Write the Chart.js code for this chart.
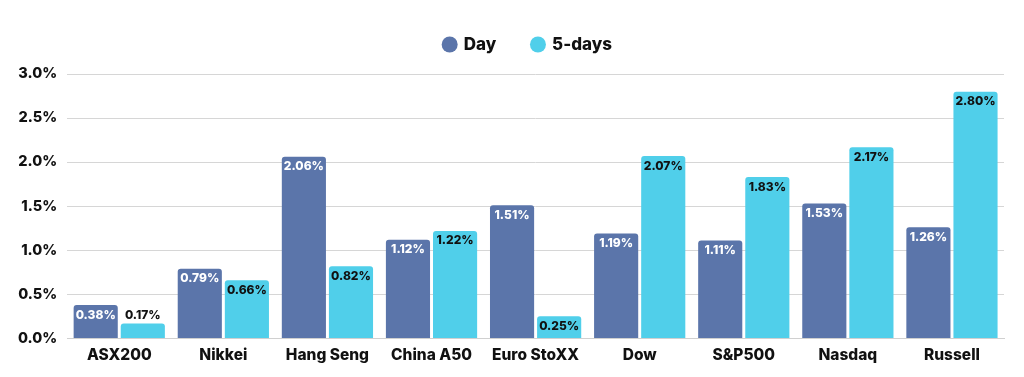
<!DOCTYPE html>
<html>
<head>
<meta charset="utf-8">
<script src="https://cdn.jsdelivr.net/npm/chart.js@4.4.1/dist/chart.umd.min.js"></script>
<style>
  html, body { margin: 0; padding: 0; background: #fff; }
  #wrap { width: 1024px; height: 377px; }
</style>
</head>
<body>
<div id="wrap"><canvas id="indexChart"></canvas></div>
<script>
// index returns
const markets = ['ASX200', 'Nikkei', 'Hang Seng', 'China A50', 'Euro StoXX', 'Dow', 'S&P500', 'Nasdaq', 'Russell'];
const dayReturns = [0.38, 0.79, 2.06, 1.12, 1.51, 1.19, 1.11, 1.53, 1.26];
const fiveDayReturns = [0.17, 0.66, 0.82, 1.22, 0.25, 2.07, 1.83, 2.17, 2.80];

const FONT = 'Inter, "Open Sans", sans-serif';

// value labels drawn at the top of each bar
const barLabels = {
  id: 'barLabels',
  afterDatasetsDraw(chart) {
    const ctx = chart.ctx;
    ctx.save();
    ctx.font = '800 12px ' + FONT;
    ctx.textAlign = 'center';
    ctx.textBaseline = 'middle';
    chart.data.datasets.forEach((ds, i) => {
      const meta = chart.getDatasetMeta(i);
      meta.data.forEach((bar, j) => {
        const h = bar.base - bar.y;
        const txt = ds.data[j].toFixed(2) + '%';
        if (h < 20) {
          ctx.fillStyle = '#111';
          ctx.fillText(txt, bar.x, bar.y - 8);
        } else {
          ctx.fillStyle = ds.labelColor;
          ctx.fillText(txt, bar.x, bar.y + 10);
        }
      });
    });
    ctx.restore();
  }
};

// extra room under the legend, and centre it over the plot
const legendGap = {
  id: 'legendGap',
  beforeInit(chart) {
    const fit = chart.legend.fit;
    chart.legend.fit = function () {
      fit.bind(chart.legend)();
      this.height += 11;
    };
  },
  afterLayout(chart) {
    chart.legend.left += 22;
    chart.legend.right += 22;
  }
};

new Chart(document.getElementById('indexChart'), {
  type: 'bar',
  data: {
    labels: markets,
    datasets: [
      {
        label: 'Day',
        data: dayReturns,
        backgroundColor: '#5b75aa',
        labelColor: '#ffffff',
        borderRadius: 3,
        barPercentage: 0.937,
        categoryPercentage: 0.905
      },
      {
        label: '5-days',
        data: fiveDayReturns,
        backgroundColor: '#50cfea',
        labelColor: '#111111',
        borderRadius: 3,
        barPercentage: 0.937,
        categoryPercentage: 0.905
      }
    ]
  },
  options: {
    responsive: true,
    maintainAspectRatio: false,
    animation: false,
    layout: { padding: { top: 0, right: 20, left: 8, bottom: 12 } },
    plugins: {
      legend: {
        position: 'top',
        labels: {
          usePointStyle: true,
          pointStyle: 'circle',
          boxWidth: 11.3,
          boxHeight: 11.3,
          padding: 36,
          color: '#111',
          font: { family: FONT, size: 17, weight: '800' }
        }
      },
      tooltip: { enabled: false }
    },
    scales: {
      x: {
        grid: { display: false },
        border: { color: '#d0d0d0' },
        ticks: { color: '#111', font: { family: FONT, size: 15.5, weight: '800' }, padding: 0 }
      },
      y: {
        min: 0,
        max: 3,
        ticks: {
          stepSize: 0.5,
          color: '#111',
          padding: 10,
          font: { family: FONT, size: 14.5, weight: '800' },
          callback: v => v.toFixed(1) + '%'
        },
        grid: { color: '#d6d6d6', drawTicks: false },
        border: { display: false }
      }
    }
  },
  plugins: [barLabels, legendGap]
});
</script>
</body>
</html>
